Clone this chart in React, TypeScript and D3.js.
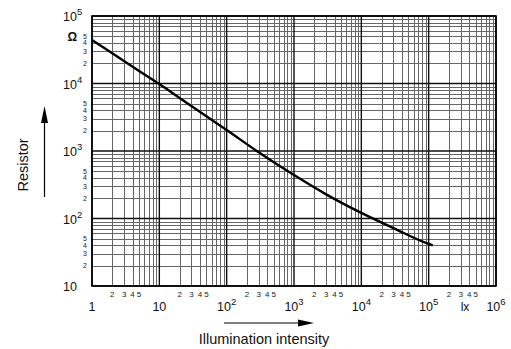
import React, { useEffect, useRef } from "react";
import * as d3 from "d3";

// curve (lux -> ohm)
const luxValues = [1, 2, 5, 10, 20, 50, 100, 280, 1000, 3000, 10000, 30000, 100000, 115000];
const resistanceValues = [44000, 28000, 15300, 9800, 6100, 3270, 2050, 1000, 440, 228, 121, 72, 42, 40];

const xDecades = [1, 10, 100, 1000, 10000, 100000, 1000000];
const xDecadeLabels = [["1", ""], ["10", ""], ["10", "2"], ["10", "3"], ["10", "4"], ["10", "5"], ["10", "6"]];
const yDecades = [10, 100, 1000, 10000, 100000];
const yDecadeLabels = [["10", ""], ["10", "2"], ["10", "3"], ["10", "4"], ["10", "5"]];
const minorLabels = [2, 3, 4, 5];

const FONT = "'Liberation Sans', Arial, Helvetica, sans-serif";

const App = () => {
  const svgRef = useRef<SVGSVGElement | null>(null);

  useEffect(() => {
    const svg = d3.select(svgRef.current);
    svg.selectAll("*").remove();

    const left = 92;
    const right = 496;
    const top = 16;
    const bottom = 286;

    const x = d3.scaleLog().domain([1, 1e6]).range([left, right]);
    const y = d3.scaleLog().domain([10, 1e5]).range([bottom, top]);

    const grid = svg.append("g");

    // minor grid (2..9 in every decade)
    const xMinor: number[] = [];
    xDecades.slice(0, -1).forEach((d) => {
      for (let k = 2; k <= 9; k++) xMinor.push(d * k);
    });
    const yMinor: number[] = [];
    yDecades.slice(0, -1).forEach((d) => {
      for (let k = 2; k <= 9; k++) yMinor.push(d * k);
    });

    grid
      .selectAll(".xminor")
      .data(xMinor)
      .enter()
      .append("line")
      .attr("x1", (d) => Math.round(x(d)) + 0.5)
      .attr("x2", (d) => Math.round(x(d)) + 0.5)
      .attr("y1", top)
      .attr("y2", bottom)
      .attr("stroke", "#666")
      .attr("stroke-width", 1);

    grid
      .selectAll(".yminor")
      .data(yMinor)
      .enter()
      .append("line")
      .attr("y1", (d) => Math.round(y(d)) + 0.5)
      .attr("y2", (d) => Math.round(y(d)) + 0.5)
      .attr("x1", left)
      .attr("x2", right)
      .attr("stroke", "#666")
      .attr("stroke-width", 1);

    grid
      .selectAll(".xmajor")
      .data(xDecades)
      .enter()
      .append("line")
      .attr("x1", (d) => x(d))
      .attr("x2", (d) => x(d))
      .attr("y1", top)
      .attr("y2", bottom)
      .attr("stroke", "#111")
      .attr("stroke-width", 1.4);

    grid
      .selectAll(".ymajor")
      .data(yDecades)
      .enter()
      .append("line")
      .attr("y1", (d) => y(d))
      .attr("y2", (d) => y(d))
      .attr("x1", left)
      .attr("x2", right)
      .attr("stroke", "#111")
      .attr("stroke-width", 1.4);

    svg
      .append("rect")
      .attr("x", left)
      .attr("y", top)
      .attr("width", right - left)
      .attr("height", bottom - top)
      .attr("fill", "none")
      .attr("stroke", "#000")
      .attr("stroke-width", 1.6);

    // curve
    const line = d3
      .line<number>()
      .x((d) => x(d))
      .y((d, i) => y(resistanceValues[i]))
      .curve(d3.curveMonotoneX);

    svg
      .append("path")
      .attr("d", line(luxValues))
      .attr("fill", "none")
      .attr("stroke", "#000")
      .attr("stroke-width", 2.4);

    // x decade labels
    const xl = svg
      .selectAll(".xlab")
      .data(xDecades)
      .enter()
      .append("text")
      .attr("x", (d) => x(d))
      .attr("y", 311)
      .attr("text-anchor", "middle")
      .attr("font-family", FONT)
      .attr("font-size", 12.5)
      .attr("fill", "#111");
    xl.append("tspan").text((d, i) => xDecadeLabels[i][0]);
    xl.append("tspan")
      .attr("dy", -6)
      .attr("font-size", 9.5)
      .text((d, i) => xDecadeLabels[i][1]);

    svg
      .append("text")
      .attr("x", 465)
      .attr("y", 311)
      .attr("text-anchor", "middle")
      .attr("font-family", FONT)
      .attr("font-size", 12)
      .attr("fill", "#111")
      .text("lx");

    // x minor labels
    const xMinorLab: number[] = [];
    xDecades.slice(0, -1).forEach((d) => minorLabels.forEach((k) => xMinorLab.push(d * k)));
    svg
      .selectAll(".xminlab")
      .data(xMinorLab)
      .enter()
      .append("text")
      .attr("x", (d) => x(d))
      .attr("y", 297)
      .attr("text-anchor", "middle")
      .attr("font-family", FONT)
      .attr("font-size", 8)
      .attr("fill", "#222")
      .text((d) => String(Math.round(d / Math.pow(10, Math.floor(Math.log10(d) + 1e-9)))));

    // y decade labels
    const yl = svg
      .selectAll(".ylab")
      .data(yDecades)
      .enter()
      .append("text")
      .attr("x", 63)
      .attr("y", (d) => y(d) + 5)
      .attr("font-family", FONT)
      .attr("font-size", 12.5)
      .attr("fill", "#111");
    yl.append("tspan").text((d, i) => yDecadeLabels[i][0]);
    yl.append("tspan")
      .attr("dy", -6)
      .attr("font-size", 9.5)
      .text((d, i) => yDecadeLabels[i][1]);

    // y minor labels
    const yMinorLab: number[] = [];
    yDecades.slice(0, -1).forEach((d) => minorLabels.forEach((k) => yMinorLab.push(d * k)));
    svg
      .selectAll(".yminlab")
      .data(yMinorLab)
      .enter()
      .append("text")
      .attr("x", 87)
      .attr("y", (d) => y(d) + 2.5)
      .attr("text-anchor", "end")
      .attr("font-family", FONT)
      .attr("font-size", 7)
      .attr("fill", "#222")
      .text((d) => String(Math.round(d / Math.pow(10, Math.floor(Math.log10(d) + 1e-9)))));

    svg
      .append("text")
      .attr("x", 77)
      .attr("y", 41)
      .attr("text-anchor", "end")
      .attr("font-family", FONT)
      .attr("font-size", 12)
      .attr("font-weight", "bold")
      .attr("fill", "#111")
      .text("Ω");

    // axis titles + arrows
    svg
      .append("text")
      .attr("transform", "translate(28,165) rotate(-90)")
      .attr("text-anchor", "middle")
      .attr("font-family", FONT)
      .attr("font-size", 14.5)
      .attr("fill", "#111")
      .text("Resistor");

    svg
      .append("line")
      .attr("x1", 44.5)
      .attr("x2", 44.5)
      .attr("y1", 197)
      .attr("y2", 118)
      .attr("stroke", "#000")
      .attr("stroke-width", 1.2);
    svg
      .append("path")
      .attr("d", "M44.5,106 L41,123 L48,123 Z")
      .attr("fill", "#000");

    svg
      .append("line")
      .attr("x1", 224)
      .attr("x2", 302)
      .attr("y1", 323)
      .attr("y2", 323)
      .attr("stroke", "#000")
      .attr("stroke-width", 1.2);
    svg
      .append("path")
      .attr("d", "M314,323 L298,319.5 L298,326.5 Z")
      .attr("fill", "#000");

    svg
      .append("text")
      .attr("x", 264)
      .attr("y", 344)
      .attr("text-anchor", "middle")
      .attr("font-family", FONT)
      .attr("font-size", 14.5)
      .attr("fill", "#111")
      .text("Illumination intensity");
  }, []);

  return (
    <svg
      ref={svgRef}
      width="511"
      height="349"
      style={{ position: "absolute", left: 0, top: 0, background: "#fff" }}
    ></svg>
  );
};

export default App;
